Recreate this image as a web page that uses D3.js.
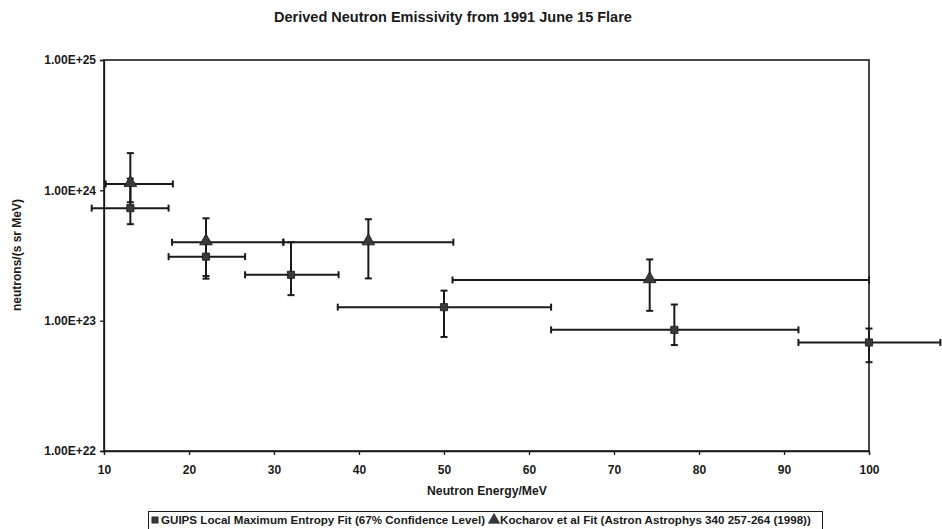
<!DOCTYPE html>
<html>
<head>
<meta charset="utf-8">
<script src="https://cdn.jsdelivr.net/npm/d3@7"></script>
<style>
  body { margin: 0; background: #fff; }
  svg { display: block; font-family: "Liberation Sans", Arial, sans-serif; font-weight: bold; }
  .axis path, .axis line { stroke: #1a1a1a; stroke-width: 1.3; }
  .axis text { fill: #1a1a1a; font-size: 12px; font-weight: bold; font-family: "Liberation Sans", Arial, sans-serif; }
</style>
</head>
<body>
<svg id="chart" width="942" height="529"></svg>
<script>
// GUIPS local maximum entropy fit (squares)
const guipsEnergy = [13.1, 22.0, 32.0, 50.0, 77.1, 100.0]
const guipsFlux   = [7.3e23, 3.1e23, 2.25e23, 1.27e23, 8.5e22, 6.8e22]
const guipsELo    = [8.55, 17.6, 26.6, 37.5, 62.6, 91.7]
const guipsEHi    = [17.6, 26.6, 37.6, 62.6, 91.7, 108.4]
const guipsFLo    = [5.5e23, 2.1e23, 1.57e23, 7.5e22, 6.5e22, 4.8e22]
const guipsFHi    = [1.23e24, 3.9e23, 4.0e23, 1.7e23, 1.33e23, 8.7e22]

// Kocharov et al fit (triangles)
const kochEnergy = [13.1, 22.0, 41.1, 74.2]
const kochFlux   = [1.12e24, 4.0e23, 4.0e23, 2.05e23]
const kochELo    = [10.2, 18.0, 31.1, 51.0]
const kochEHi    = [18.1, 31.1, 51.1, 100.0]
const kochFLo    = [8.1e23, 2.2e23, 2.11e23, 1.19e23]
const kochFHi    = [1.93e24, 6.1e23, 6.0e23, 2.95e23]

const xTicks = [10, 20, 30, 40, 50, 60, 70, 80, 90, 100]
const yTicks = [1e22, 1e23, 1e24, 1e25]

const titleText = 'Derived Neutron Emissivity from 1991 June 15 Flare'
const xTitle = 'Neutron Energy/MeV'
const yTitle = 'neutrons/(s sr MeV)'
const legendLabels = [
  'GUIPS Local Maximum Entropy Fit (67% Confidence Level)',
  'Kocharov et al Fit (Astron Astrophys 340 257-264 (1998))'
]

const ink = '#1a1a1a', markFill = '#3a3a3a'
const plot = { left: 104, right: 869, top: 60, bottom: 451 }

const x = d3.scaleLinear().domain([10, 100]).range([plot.left, plot.right])
const y = d3.scaleLog().domain([1e22, 1e25]).range([plot.bottom, plot.top])

const svg = d3.select('#chart')

const zip = (e, f, el, eh, fl, fh) => e.map((d, i) => ({
  e: d, f: f[i], eLo: el[i], eHi: eh[i], fLo: fl[i], fHi: fh[i]
}))
const guips = zip(guipsEnergy, guipsFlux, guipsELo, guipsEHi, guipsFLo, guipsFHi)
const koch = zip(kochEnergy, kochFlux, kochELo, kochEHi, kochFLo, kochFHi)

svg.append('text')
  .attr('x', 453).attr('y', 22)
  .attr('text-anchor', 'middle')
  .style('font-size', '14.5px')
  .attr('fill', ink)
  .text(titleText)

// axes
svg.append('g')
  .attr('class', 'axis')
  .attr('transform', `translate(${plot.left},0)`)
  .call(d3.axisLeft(y).tickValues(yTicks).tickSize(4).tickPadding(4)
    .tickFormat(d => d.toExponential(2).toUpperCase()))

svg.append('g')
  .attr('class', 'axis')
  .attr('transform', `translate(0,${plot.bottom})`)
  .call(d3.axisBottom(x).tickValues(xTicks).tickSize(4).tickPadding(10))

svg.append('rect')
  .attr('x', plot.left).attr('y', plot.top)
  .attr('width', plot.right - plot.left).attr('height', plot.bottom - plot.top)
  .attr('fill', 'none').attr('stroke', ink).attr('stroke-width', 1.6)

svg.append('text')
  .attr('x', 487).attr('y', 495)
  .attr('text-anchor', 'middle')
  .style('font-size', '12.2px')
  .attr('fill', ink)
  .text(xTitle)

svg.append('text')
  .attr('transform', `translate(21,255) rotate(-90)`)
  .attr('text-anchor', 'middle')
  .style('font-size', '12px')
  .attr('fill', ink)
  .text(yTitle)

// error bars
function errorBars(data, cls) {
  const g = svg.append('g').attr('class', cls)
    .attr('stroke', ink).attr('stroke-width', 2).attr('fill', 'none')
  const cap = 3.5
  data.forEach(d => {
    const cx = x(d.e), cy = y(d.f)
    g.append('line').attr('x1', x(d.eLo)).attr('x2', x(d.eHi)).attr('y1', cy).attr('y2', cy)
    g.append('line').attr('x1', x(d.eLo)).attr('x2', x(d.eLo)).attr('y1', cy - cap).attr('y2', cy + cap)
    g.append('line').attr('x1', x(d.eHi)).attr('x2', x(d.eHi)).attr('y1', cy - cap).attr('y2', cy + cap)
    g.append('line').attr('x1', cx).attr('x2', cx).attr('y1', y(d.fLo)).attr('y2', y(d.fHi))
    g.append('line').attr('x1', cx - cap).attr('x2', cx + cap).attr('y1', y(d.fLo)).attr('y2', y(d.fLo))
    g.append('line').attr('x1', cx - cap).attr('x2', cx + cap).attr('y1', y(d.fHi)).attr('y2', y(d.fHi))
  })
}
errorBars(guips, 'guips-err')
errorBars(koch, 'koch-err')

const squareSym = d3.symbol().type(d3.symbolSquare).size(52)
const triSym = d3.symbol().type(d3.symbolTriangle).size(70)

svg.append('g').selectAll('path')
  .data(guips).enter().append('path')
  .attr('d', squareSym)
  .attr('transform', d => `translate(${x(d.e)},${y(d.f)})`)
  .attr('fill', markFill).attr('stroke', ink).attr('stroke-width', 0.8)

svg.append('g').selectAll('path')
  .data(koch).enter().append('path')
  .attr('d', triSym)
  .attr('transform', d => `translate(${x(d.e)},${y(d.f) - 1})`)
  .attr('fill', markFill).attr('stroke', ink).attr('stroke-width', 0.8)

// legend
const legend = svg.append('g').attr('class', 'legend')
legend.append('rect')
  .attr('x', 148.5).attr('y', 511.5).attr('width', 674).attr('height', 30)
  .attr('fill', '#fff').attr('stroke', ink).attr('stroke-width', 1)

let lx = 151
legend.append('path').attr('d', squareSym.size(40)())
  .attr('transform', `translate(${lx + 4},520)`).attr('fill', markFill).attr('stroke', ink).attr('stroke-width', 0.6)
const t1 = legend.append('text').attr('x', lx + 10).attr('y', 524)
  .style('font-size', '11.6px').attr('fill', ink).text(legendLabels[0])
lx = lx + 10 + t1.node().getComputedTextLength() + 5
legend.append('path').attr('d', triSym.size(55)())
  .attr('transform', `translate(${lx + 4},520)`).attr('fill', markFill).attr('stroke', ink).attr('stroke-width', 0.6)
legend.append('text').attr('x', lx + 10).attr('y', 524)
  .style('font-size', '11.6px').attr('fill', ink).text(legendLabels[1])
</script>
</body>
</html>
